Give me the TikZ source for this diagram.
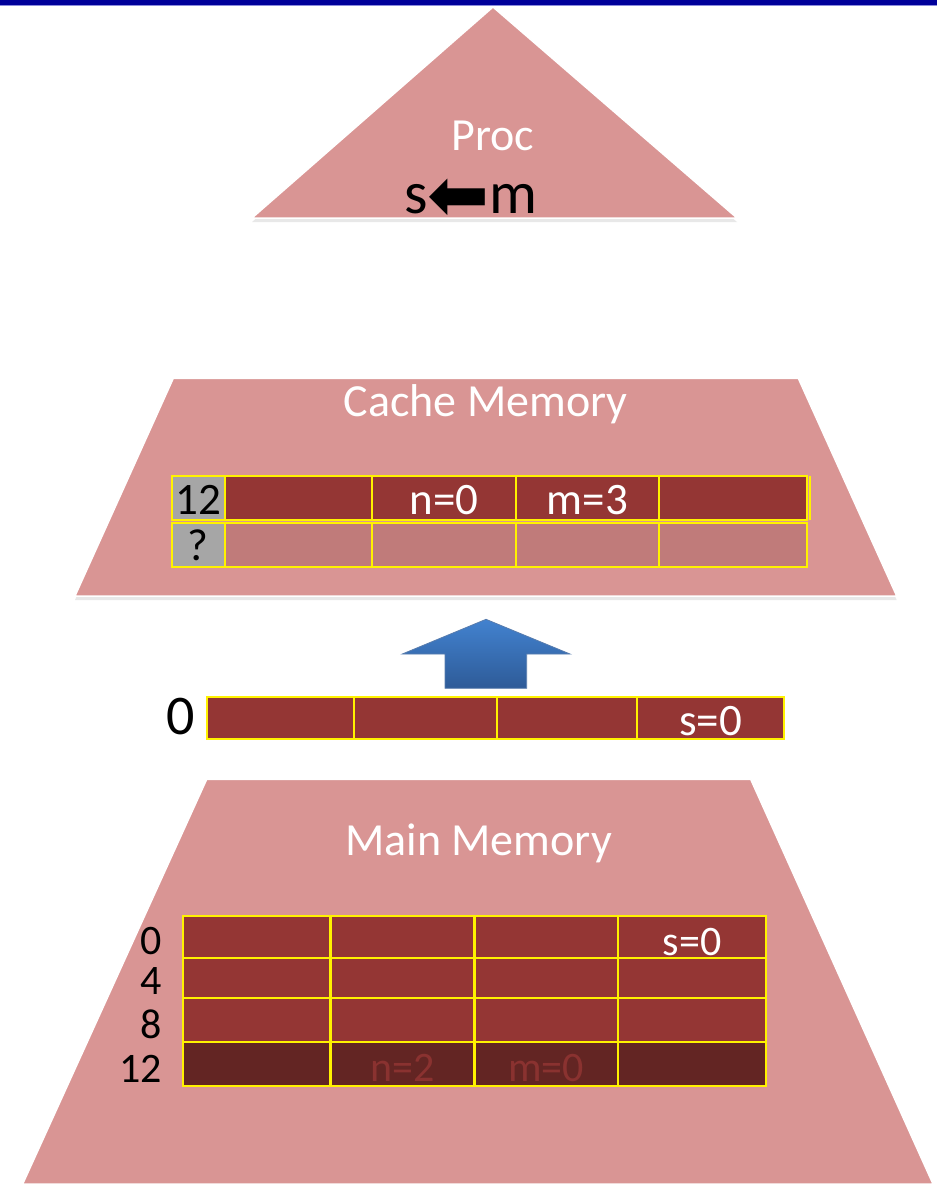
\documentclass[tikz,border=0pt]{standalone}
\usepackage{fontspec}
\setmainfont{Carlito}
\newfontfamily\arrowfont{DejaVu Sans}
\definecolor{barblue}{HTML}{00009A}
\definecolor{barlight}{HTML}{8C8CDC}
\definecolor{pyramid}{HTML}{D99594}
\definecolor{cellred}{HTML}{943634}
\definecolor{cellpale}{HTML}{C07B7A}
\definecolor{celldark}{HTML}{632523}
\definecolor{dimtext}{HTML}{8A3230}
\definecolor{taggrey}{HTML}{A6A6A6}
\definecolor{arrowtop}{HTML}{4282CF}
\definecolor{arrowbot}{HTML}{2E5B98}
\usetikzlibrary{shadows}

\begin{document}
\begin{tikzpicture}[x=1pt, y=-1pt,
    layer/.style={fill=pyramid, draw=white, line width=1.5pt,
      drop shadow={shadow xshift=0pt, shadow yshift=-4pt, opacity=0.18}},
    cell/.style={draw=yellow, line width=2.2pt},
    title/.style={text=white, inner sep=0pt, anchor=base, font=\fontsize{46}{50}\selectfont},
    celltext/.style={inner sep=0pt, anchor=base, font=\fontsize{45}{48}\selectfont},
    memtext/.style={inner sep=0pt, anchor=base, font=\fontsize{42}{46}\selectfont}]
  \useasboundingbox (0,0) rectangle (937,1184);
  \fill[barblue] (0,0) rectangle (937,4.5);
  \fill[barlight] (0,4.5) rectangle (937,6);

  % processor
  \path[layer] (493,7) -- (737,218) -- (252,218) -- cycle;
  \node[title] (proc) at (493,150) {Proc};
  \node[inner sep=0pt, anchor=base, font=\fontsize{60}{64}\selectfont]
    (swap) at (471,213) {s\raisebox{-7pt}{\arrowfont\fontsize{74}{78}\selectfont ⬅}m};

  % cache
  \path[layer] (173.3,378.3) -- (798.3,378.3) -- (896.7,596) -- (75,596) -- cycle;
  \node[title] (cachetitle) at (485.5,416) {Cache Memory};
  \draw[cell, fill=taggrey] (171.7,476) rectangle (225,520);
  \draw[cell, fill=taggrey] (171.7,522.7) rectangle (225,566.7);
  \foreach \xa/\xb in {225/372, 372/516, 516/659, 659/807} {
    \draw[cell, fill=cellred] (\xa,476) rectangle (\xb,520);
    \draw[cell, fill=cellpale] (\xa,522.7) rectangle (\xb,566.7);
  }
  \draw[cell] (810,476) -- (810,520);
  \node[celltext] (tag12) at (198.3,514) {12};
  \node[celltext] (tagq) at (198.3,560) {?};
  \node[celltext, text=white] (valn) at (444,514) {n=0};
  \node[celltext, text=white] (valm) at (587.5,514) {m=3};

  % block on its way up
  \shade[top color=arrowtop, bottom color=arrowbot, draw=arrowbot!80, line width=0.8pt]
    (486,619.3) -- (570,654) -- (526.7,654) -- (526.7,688.3)
    -- (445,688.3) -- (445,654) -- (402.3,654) -- cycle;
  \foreach \xa/\xb in {207/354, 354/497, 497/637, 637/784}
    \draw[cell, fill=cellred] (\xa,697.3) rectangle (\xb,739.3);
  \node[inner sep=0pt, anchor=base east, font=\fontsize{56}{60}\selectfont]
    (blocklab) at (195,734) {0};
  \node[celltext, text=white] (blockval) at (710.5,735) {s=0};

  % main memory
  \path[layer] (206.7,779.3) -- (750.7,779.3) -- (933,1184) -- (22.7,1184) -- cycle;
  \node[title] (maintitle) at (478.5,855) {Main Memory};
  \foreach \ya/\yb/\lab/\c in {916/958/0/cellred, 958/998/4/cellred,
      998/1042/8/cellred, 1042/1086/12/celldark} {
    \foreach \xa/\xb in {183/330.4, 330.4/474.4, 474.4/618, 618/766}
      \draw[cell, fill=\c] (\xa,\ya) rectangle (\xb,\yb);
    \node[memtext, anchor=base east] (lab\lab) at (162,\yb-4) {\lab};
  }
  \node[memtext, text=white] (mems) at (692,955) {s=0};
  \node[memtext, text=dimtext] (memn) at (402.4,1081.7) {n=2};
  \node[memtext, text=dimtext] (memm) at (546.2,1081.7) {m=0};
\end{tikzpicture}
\end{document}
